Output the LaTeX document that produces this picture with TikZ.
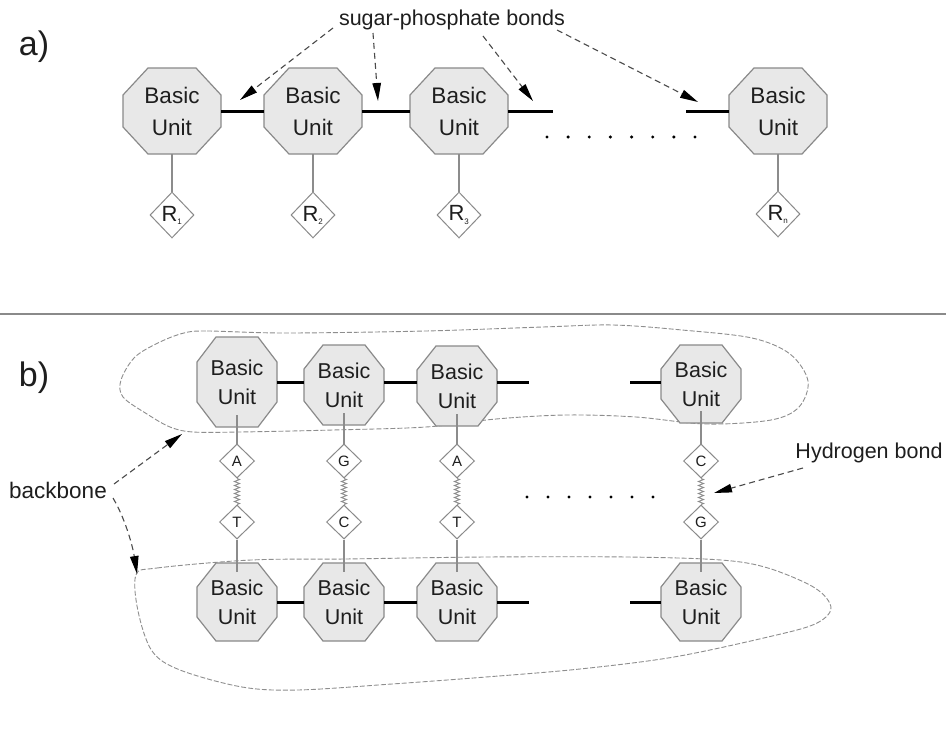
\documentclass[tikz,border=0pt]{standalone}
\usepackage{fontspec}
\setmainfont{Liberation Sans}
\usetikzlibrary{arrows.meta,shapes.geometric,decorations.pathmorphing,calc}

\definecolor{octfill}{HTML}{E8E8E8}
\definecolor{octedge}{HTML}{8A8A8A}
\definecolor{stemgray}{HTML}{8C8C8C}
\definecolor{inkdark}{HTML}{1E1E1E}
\definecolor{leadgray}{HTML}{4A4A4A}
\definecolor{blobgray}{HTML}{8E8E8E}

% octagonal "Basic Unit": name, cx, cy, half width, half height, chamfer x, chamfer y, font style
\newcommand\octunit[8]{%
  \filldraw[octagon] (#2-#4+#6,#3-#5) -- (#2+#4-#6,#3-#5) -- (#2+#4,#3-#5+#7)
    -- (#2+#4,#3+#5-#7) -- (#2+#4-#6,#3+#5) -- (#2-#4+#6,#3+#5)
    -- (#2-#4,#3+#5-#7) -- (#2-#4,#3-#5+#7) -- cycle;
  \node[unitlabel,#8,minimum width=2*#4,minimum height=2*#5] (#1) at (#2,#3) {Basic\\Unit};
}

\tikzset{
  octagon/.style={fill=octfill,draw=octedge,line width=1.2pt,line join=miter},
  unitlabel/.style={draw=none,inner sep=0pt,align=center,text=inkdark},
  unitA/.style={font=\fontsize{22.5}{32}\selectfont},
  unitB/.style={font=\fontsize{21.5}{29}\selectfont},
  rgroup/.style={diamond,draw=octedge,fill=white,line width=1pt,inner sep=0pt,
    minimum width=44pt,minimum height=46pt,text=inkdark,font=\fontsize{22}{22}\selectfont},
  base/.style={diamond,draw=octedge,fill=white,line width=1pt,inner sep=0pt,
    minimum width=35pt,minimum height=34pt,text=inkdark,font=\fontsize{15}{15}\selectfont},
  bond/.style={line width=3pt,black},
  stem/.style={line width=1.1pt,stemgray},
  spring/.style={stemgray,line width=0.9pt,decorate,
    decoration={zigzag,segment length=4pt,amplitude=2.6pt}},
  leader/.style={leadgray,line width=1.1pt,dash pattern=on 6pt off 4pt,
    -{Triangle[length=18pt,width=8.5pt,fill=black,color=black]}},
  blob/.style={blobgray,line width=0.9pt,dash pattern=on 5pt off 2pt},
  tag/.style={text=inkdark,font=\fontsize{34}{34}\selectfont},
  caption/.style={text=inkdark,font=\fontsize{21.5}{21.5}\selectfont},
  dot/.style={circle,fill=black,inner sep=0pt,minimum size=3.4pt},
}

\begin{document}
\begin{tikzpicture}[x=1pt,y=-1pt]
\useasboundingbox[fill=white] (0,0) rectangle (946,755);

% ---------------- a) a single strand ----------------
\node[tag] (taga) at (34,47) {a)};

\octunit{a1}{172}{111}{49}{43}{25}{27}{unitA}
\octunit{a2}{313}{111}{49}{43}{25}{27}{unitA}
\octunit{a3}{459}{111}{49}{43}{25}{27}{unitA}
\octunit{a4}{778}{111}{49}{43}{25}{27}{unitA}

\coordinate (a3end) at (553,111);
\coordinate (a4start) at (686,111);
\draw[bond] (a1.east) -- (a2.west);
\draw[bond] (a2.east) -- (a3.west);
\draw[bond] (a3.east) -- (a3end);
\draw[bond] (a4start) -- (a4.west);

\foreach \k in {0,...,7} \node[dot] (adot\k) at (547+21.14*\k,137) {};

\node[rgroup] (r1) at (172,215) {R\textsubscript{\fontsize{8}{8}\selectfont 1}};
\node[rgroup] (r2) at (313,215) {R\textsubscript{\fontsize{8}{8}\selectfont 2}};
\node[rgroup] (r3) at (459,215) {R\textsubscript{\fontsize{8}{8}\selectfont 3}};
\node[rgroup] (rn) at (778,214) {R\textsubscript{\fontsize{8}{8}\selectfont n}};
\draw[stem] (a1.south) -- (r1.north);
\draw[stem] (a2.south) -- (r2.north);
\draw[stem] (a3.south) -- (r3.north);
\draw[stem] (a4.south) -- (rn.north);

\node[caption] (sp) at (452,20) {sugar-phosphate bonds};
\coordinate (sp1) at (333,28);  \coordinate (tip1) at (240,100);
\coordinate (sp2) at (373,33);  \coordinate (tip2) at (378,101);
\coordinate (sp3) at (483,36);  \coordinate (tip3) at (533,101);
\coordinate (sp4) at (557,30);  \coordinate (tip4) at (698,102);
\draw[leader] (sp1) -- (tip1);
\draw[leader] (sp2) -- (tip2);
\draw[leader] (sp3) -- (tip3);
\draw[leader] (sp4) -- (tip4);

% separator
\coordinate (sepL) at (0,314);
\coordinate (sepR) at (946,314);
\draw[line width=1.6pt,octedge] (sepL) -- (sepR);

% ---------------- b) the double strand ----------------
\node[tag] (tagb) at (34,378) {b)};

% backbone outlines
\draw[blob] plot[smooth cycle,tension=0.55] coordinates {
  (184,333) (207,331) (286,333) (426,331) (543,327) (613,325) (682,330)
  (752,338) (790,354) (808,381) (799,407) (771,420) (706,424) (636,417)
  (566,415) (496,419) (426,427) (333,430) (240,432) (193,432) (170,427)
  (147,414) (123,397) (121,380) (135,357) (160,342)};
\draw[blob] plot[smooth cycle,tension=0.55] coordinates {
  (136,575) (157,568) (251,560) (345,559) (486,557) (627,557) (721,560)
  (768,568) (815,588) (831,608) (815,624) (768,637) (674,657) (580,669)
  (486,677) (392,684) (298,690) (242,687) (180,670) (152,651) (138,611)};

% top strand
\octunit{t1}{237}{382}{40}{45}{19}{25}{unitB}
\octunit{t2}{344}{385}{40}{40}{19}{24}{unitB}
\octunit{t3}{457}{386}{40}{40}{19}{24}{unitB}
\octunit{t4}{701}{384}{40}{39}{19}{24}{unitB}
\coordinate (t3end) at (529,382);
\coordinate (t4start) at (630,382);
\draw[bond] (t1.east) -- (t2.west |- t1.east);
\draw[bond] (t2.east |- t1.east) -- (t3.west |- t1.east);
\draw[bond] (t3.east |- t1.east) -- (t3end);
\draw[bond] (t4start) -- (t4.west |- t3end);

% bottom strand
\octunit{b1}{237}{602}{40}{39}{19}{24}{unitB}
\octunit{b2}{344}{602}{40}{39}{19}{24}{unitB}
\octunit{b3}{457}{602}{40}{39}{19}{24}{unitB}
\octunit{b4}{701}{602}{40}{39}{19}{24}{unitB}
\coordinate (b3end) at (529,602);
\coordinate (b4start) at (630,602);
\draw[bond] (b1.east) -- (b2.west);
\draw[bond] (b2.east) -- (b3.west);
\draw[bond] (b3.east) -- (b3end);
\draw[bond] (b4start) -- (b4.west);

% base pairs
\node[base] (p1u) at (237,461) {A};
\node[base] (p1d) at (237,522) {T};
\node[base] (p2u) at (344,461) {G};
\node[base] (p2d) at (344,522) {C};
\node[base] (p3u) at (457,461) {A};
\node[base] (p3d) at (457,522) {T};
\node[base] (p4u) at (701,461) {C};
\node[base] (p4d) at (701,522) {G};

\foreach \i/\t/\b in {1/t1/b1,2/t2/b2,3/t3/b3,4/t4/b4}{
  \draw[stem] ($(\t.south)+(0,-12)$) -- (p\i u.north);
  \draw[spring] (p\i u.south) -- (p\i d.north);
  \draw[stem] (p\i d.south) -- ($(\b.north)+(0,9)$);
}

\foreach \k in {0,...,6} \node[dot] (bdot\k) at (527+21*\k,497) {};

% labels
\node[caption,font=\fontsize{22.5}{22.5}\selectfont] (bb) at (58,490) {backbone};
\coordinate (bbA) at (114,484);  \coordinate (bbtipA) at (182,434);
\coordinate (bbB) at (113,498);  \coordinate (bbtipB) at (137,574);
\draw[leader] (bbA) -- (bbtipA);
\draw[leader] (bbB) .. controls (126,520) and (133,548) .. (bbtipB);

\node[caption] (hb) at (869,453) {Hydrogen bond};
\coordinate (hbA) at (803,468);  \coordinate (hbtip) at (714,493);
\draw[leader] (hbA) -- (hbtip);
\end{tikzpicture}
\end{document}
